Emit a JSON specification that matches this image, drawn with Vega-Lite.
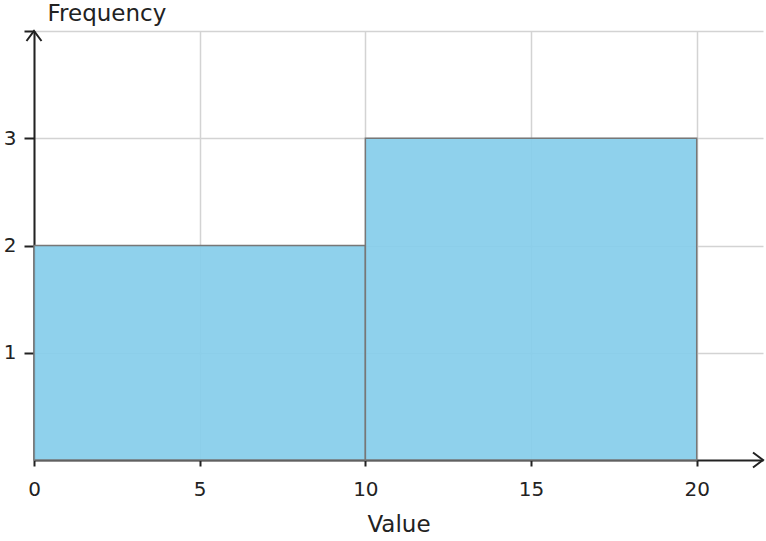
{
  "$schema": "https://vega.github.io/schema/vega-lite/v6.json",
  "width": 729,
  "height": 429,
  "autosize": "none",
  "padding": {"left": 34, "top": 31, "right": 3, "bottom": 81},
  "background": "white",
  "datasets": {
    "bins": [
      {"bin_start": 0, "bin_end": 10, "count": 2},
      {"bin_start": 10, "bin_end": 20, "count": 3}
    ],
    "xarrow": [{"x": 22, "y": 0}],
    "yarrow": [{"x": 0, "y": 4}]
  },
  "layer": [
    {
      "data": {"name": "bins"},
      "mark": {"type": "rect", "fill": "#87CEEB", "fillOpacity": 0.93, "stroke": "#777777", "strokeWidth": 1.5},
      "encoding": {
        "x": {
          "field": "bin_start",
          "type": "quantitative",
          "scale": {"domain": [0, 22], "nice": false, "zero": false},
          "axis": {
            "title": "Value",
            "orient": "bottom",
            "values": [0, 5, 10, 15, 20],
            "format": "d",
            "labelFlush": false,
            "tickSize": 6,
            "labelPadding": 13,
            "titleY": 71,
            "titleBaseline": "alphabetic"
          }
        },
        "x2": {"field": "bin_end"},
        "y": {
          "field": "count",
          "type": "quantitative",
          "scale": {"domain": [0, 4], "nice": false},
          "axis": {
            "title": "Frequency",
            "orient": "left",
            "values": [1, 2, 3, 4],
            "format": "d",
            "tickSize": 10,
            "labelExpr": "datum.value == 4 ? '' : datum.label",
            "labelPadding": 8,
            "titleAngle": 0,
            "titleAlign": "left",
            "titleBaseline": "alphabetic",
            "titleX": 13,
            "titleY": -11,
            "encode": {"ticks": {"update": {"opacity": {"signal": "datum.value == 4 ? 0 : 1"}}}}
          }
        },
        "y2": {"datum": 0}
      }
    },
    {
      "data": {"name": "xarrow"},
      "mark": {"type": "point", "shape": "M-1,-0.75L0,0L-1,0.75", "size": 400, "filled": false, "stroke": "#222222", "strokeWidth": 2, "opacity": 1},
      "encoding": {
        "x": {"field": "x", "type": "quantitative"},
        "y": {"field": "y", "type": "quantitative"}
      }
    },
    {
      "data": {"name": "yarrow"},
      "mark": {"type": "point", "shape": "M-0.75,1L0,0L0.75,1", "size": 400, "filled": false, "stroke": "#222222", "strokeWidth": 2, "opacity": 1},
      "encoding": {
        "x": {"field": "x", "type": "quantitative"},
        "y": {"field": "y", "type": "quantitative"}
      }
    }
  ],
  "config": {
    "view": {"stroke": null},
    "font": "DejaVu Sans",
    "axis": {
      "domainColor": "#222222",
      "domainWidth": 2,
      "tickColor": "#222222",
      "tickWidth": 2,
      "gridColor": "#d3d3d3",
      "gridWidth": 1.5,
      "labelFont": "DejaVu Sans",
      "labelFontSize": 20,
      "labelColor": "#222222",
      "titleFont": "DejaVu Sans",
      "titleFontSize": 23,
      "titleFontWeight": "normal",
      "titleColor": "#222222"
    }
  }
}
